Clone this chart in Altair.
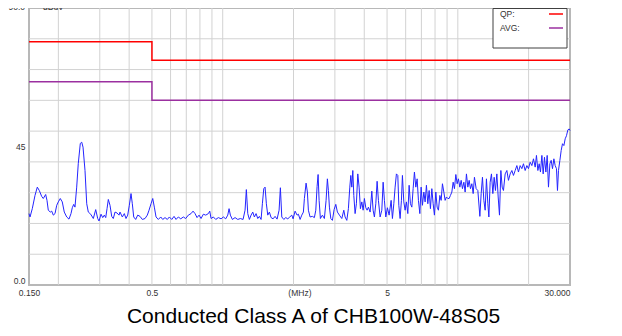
import altair as alt
import pandas as pd

seg1_f = [0.150,0.1515,0.1549,0.1591,0.1627,0.1659,0.1698,0.1725,0.1766,0.1789,
          0.1812,0.1848,0.1874,0.1903,0.1935,0.1968,0.1999,0.2038,0.2078,0.2119,
          0.2170,0.2219,0.2263,0.2292,0.2324,0.2353,0.2393,0.2430,0.2479,0.2514,
          0.2546,0.2596,0.2640,0.2681,0.2745,0.2816,0.2883,0.2940,0.2978,0.3037,
          0.3088,0.3136,0.3180,0.3221,0.3262,0.3316,0.3372,0.3425,0.3483,0.3552,0.3622]
seg1_db = [23.2,22.1,24.8,29.1,31.8,30.7,28.8,28.1,29.4,27.5,
           24.3,23.7,24.0,22.7,23.2,25.9,27.0,28.1,27.0,23.7,
           22.1,21.4,23.2,25.1,26.2,25.3,31.8,39.4,46.0,46.4,
           44.8,37.2,26.4,23.7,23.0,21.6,24.5,21.6,20.8,23.0,
           21.9,22.7,21.9,24.8,27.8,25.9,22.3,21.6,23.7,23.4,22.7]

seg2_f = [0.3658,0.3741,0.3815,0.3879,0.3944,0.4007,0.4074,0.4126,0.4183,0.4265,
          0.4350,0.4449,0.4551,0.4673,0.4779,0.4860,0.4956,0.5039,0.5119,0.5205,
          0.5323,0.5450,0.5557,0.5684,0.5813,0.5930,0.6070,0.6209,0.6331,0.6475,
          0.6630,0.6800,0.6961,0.7141,0.7333,0.7479,0.7626,0.7777,0.7932,0.8089,
          0.8273,0.8469,0.8688]
seg2_db = [23.7,22.1,23.2,21.6,22.7,25.9,29.7,26.4,22.1,21.3,
           22.7,22.3,21.3,21.6,22.7,24.3,26.4,28.1,25.3,22.1,
           21.3,22.1,21.3,21.9,21.3,22.1,21.3,22.3,21.3,22.1,
           21.5,22.1,21.6,22.7,23.2,24.0,23.2,21.9,22.7,21.6,
           23.0,22.7,23.2]

seg3_f = [0.8808,0.8921,0.9124,0.9340,0.9582,0.9840,1.0064,1.0302,1.0506,1.0642,
          1.0778,1.0992,1.1286,1.1587,1.1887,1.2206,1.2447,1.2606,1.2779,1.2984,
          1.3201,1.3421,1.3634,1.3863,1.4095,1.4321,1.4561,1.4748,1.4951,1.5142,
          1.5335,1.5546,1.5795,1.6060,1.6378,1.6701,1.7031,1.7369,1.7591,1.7834,
          1.8187,1.8545,1.8911,1.9289,1.9670,1.9923,2.0316,2.0717]
seg3_db = [24.0,21.6,22.1,21.3,21.9,21.5,22.1,21.5,22.7,24.8,
           22.7,21.3,21.9,21.3,21.6,21.3,24.3,31.0,23.2,21.3,
           22.7,23.7,22.1,23.2,21.6,22.3,21.3,26.4,31.3,31.8,
           26.4,22.7,23.7,21.9,21.5,22.3,21.4,24.3,31.6,22.1,
           21.3,21.9,21.5,22.1,22.7,21.5,24.0,22.7]

seg4_f = [2.0984,2.1336,2.1695,2.2038,2.2253,2.2627,2.2917,2.3143,2.3532,2.4070,
          2.4543,2.4881,2.5202,2.5454,2.5702,2.6031,2.6548,2.7069,2.7524,2.7876,
          2.8151,2.8432,2.8823,2.9280,2.9770,3.0266,3.0745,3.1359,3.2103,3.2738,
          3.3157,3.3713,3.4245,3.4721,3.5062,3.5407,3.5752,3.6107,3.6569,3.7035,
          3.7545,3.8033,3.8520,3.9052,3.9554,4.0056,4.0608,4.1133,4.1658,4.2358,
          4.3071,4.3625,4.4179,4.4787,4.5366,4.5945,4.6718,4.7505,4.8116,4.8726,
          4.9397,5.0179,5.1027]
seg4_db = [23.0,21.3,22.7,23.7,28.1,33.1,30.2,24.3,22.1,22.3,
           21.9,24.3,32.0,35.9,27.5,21.6,22.7,21.6,27.5,34.5,
           30.7,25.3,21.6,21.0,24.5,26.2,23.7,22.7,21.6,24.3,
           22.1,21.0,24.8,31.8,35.6,31.8,37.2,29.1,23.2,26.4,
           36.1,31.8,24.8,27.0,24.3,28.1,25.1,24.3,25.3,23.7,
           30.5,24.3,22.1,26.4,33.7,27.5,22.1,24.3,33.4,27.5,
           22.1,25.1,22.7]

seg5_f = [5.2037,5.2706,5.3431,5.4114,5.4803,5.5558,5.6115,5.6831,5.7562,5.8131,
          5.8930,5.9684,6.0444,6.1277,6.2072,6.2867,6.3736,6.4555,6.5374,6.6274,
          6.7131,6.7987,6.8933,6.9817,7.0713,7.1686,7.2603,7.3527,7.4540,7.5508,
          7.6474,7.7532,7.8528,7.9525,8.0620,8.1662,8.2704,8.3855,8.4929,8.6020,
          8.7203,8.8318,8.9443,9.0675,9.1852,9.3028,9.4314,9.5526,9.6739,9.8071,
          9.9338,10.060,10.201,10.332,10.464,10.608,10.744,10.881,11.031,11.174,
          11.317,11.473,11.621,11.768]
seg5_db = [27.5,21.6,26.4,31.8,36.1,35.6,25.9,21.6,27.5,35.6,
           27.0,24.3,27.0,23.2,32.4,26.4,25.3,31.3,36.7,31.8,
           34.5,27.5,23.2,31.8,25.9,30.2,27.0,32.4,26.4,30.7,
           24.8,31.3,26.4,22.7,30.2,25.3,24.3,29.1,27.5,32.9,
           30.2,27.5,28.6,28.1,28.1,29.1,30.2,33.4,31.3,35.9,
           32.9,34.5,31.8,34.0,31.3,33.4,30.2,36.1,31.8,34.0,
           31.3,32.9,29.7,35.0]

seg6_f = [11.966,12.166,12.409,12.568,12.729,12.904,13.070,13.236,13.418,13.553,
          13.725,13.902,14.092,14.274,14.458,14.656,14.847,15.036,15.243,15.438,
          15.636,15.898,16.165,16.420,16.696,16.977,17.245,17.534,17.829,18.110,
          18.415,18.725,19.020,19.339,19.664,19.974,20.310,20.652,20.978,21.330,
          21.601,21.899,22.183,22.467,22.778,23.070,23.363,23.685,23.991,24.297,
          24.636,24.951,25.272,25.619,25.947,26.278,26.537,26.799,27.171,27.519,
          27.873,28.256,28.618,28.983,29.381,29.763,30.000]
seg6_db = [31.3,30.7,22.3,29.7,35.0,27.5,24.3,34.5,26.4,22.1,
           33.4,36.1,29.7,35.0,30.7,36.1,28.6,22.7,37.2,31.8,
           30.7,36.1,37.2,34.0,36.1,37.2,35.6,37.2,38.8,36.7,
           38.8,37.8,39.4,37.2,38.8,37.8,39.9,38.8,41.0,38.3,
           42.1,37.2,39.4,36.7,42.1,36.1,41.5,36.7,42.1,31.8,
           39.4,40.5,37.8,41.0,38.8,37.8,30.7,37.2,40.5,43.7,
           45.9,45.3,47.5,48.5,50.4,50.7,50.2]

# ---- limit lines ----
limit_f = [0.15, 0.5, 30.0]
qp_db = [79, 73, 73]
avg_db = [66, 60, 60]

# ---- grid / ticks / text ----
x_grid = [0.2, 0.3, 0.4, 0.5, 0.6, 0.7, 0.8, 0.9, 1, 2, 3, 4, 5, 6, 7, 8, 9, 10, 20]
y_grid = [10, 20, 30, 40, 50, 60, 70, 80]
x_ticks = [0.15, 0.5, 2.12, 5, 30]
x_labels = ["0.150", "0.5", "(MHz)", "5", "30.000"]
y_ticks = [0, 45]
y_labels = ["0.0", "45"]
top_labels = ["90.0", "dBuV"]
legend_names = ["QP:", "AVG:"]
legend_colors = ["#ff0000", "#9b30a0"]
title_text = "Conducted Class A of CHB100W-48S05"

FONT = "Liberation Sans"

freq = seg1_f + seg2_f + seg3_f + seg4_f + seg5_f + seg6_f
level = seg1_db + seg2_db + seg3_db + seg4_db + seg5_db + seg6_db
trace = pd.DataFrame({"f": freq, "db": level})
qp = pd.DataFrame({"f": limit_f, "db": qp_db})
avg = pd.DataFrame({"f": limit_f, "db": avg_db})


def label_expr(vals, labs):
    parts = [f"abs(datum.value - {v}) < 1e-6 ? '{l}'" for v, l in zip(vals, labs)]
    return " : ".join(parts) + " : ''"


xs = alt.Scale(type="log", domain=[0.15, 30], nice=False)
ys = alt.Scale(domain=[0, 90], nice=False)

x_axis = alt.Axis(values=x_ticks, labelExpr=label_expr(x_ticks, x_labels), title=None,
                  grid=False, ticks=False, domain=False, labelFont=FONT, labelFontSize=8.5,
                  labelColor="#333333", labelPadding=3,
                  labelAlign={"condition": {"test": "datum.value >= 29", "value": "right"},
                              "value": "center"})
y_axis = alt.Axis(values=y_ticks, labelExpr=label_expr(y_ticks, y_labels), title=None,
                  grid=False, ticks=False, domain=False, labelFont=FONT, labelFontSize=8.5,
                  labelColor="#333333", labelPadding=4,
                  labelBaseline={"condition": {"test": "datum.value < 1", "value": "bottom"},
                                 "value": "middle"})

X = alt.X("f:Q", scale=xs, axis=x_axis)
Y = alt.Y("db:Q", scale=ys, axis=y_axis)

one = pd.DataFrame({"k": [0]})

vgrid = alt.Chart(pd.DataFrame({"f": x_grid})).mark_rule(color="#d2d2d2", strokeWidth=1).encode(x=X)
hgrid = alt.Chart(pd.DataFrame({"db": y_grid})).mark_rule(color="#d2d2d2", strokeWidth=1).encode(y=Y)

qp_line = alt.Chart(qp).mark_line(color=legend_colors[0], strokeWidth=1.5,
                                  interpolate="step-after").encode(x=X, y=Y)
avg_line = alt.Chart(avg).mark_line(color=legend_colors[1], strokeWidth=1.5,
                                    interpolate="step-after").encode(x=X, y=Y)
trace_line = alt.Chart(trace).mark_line(color="#2424ff", strokeWidth=1).encode(x=X, y=Y)

legend_box = alt.Chart(one).mark_rect(fill="white", stroke="#404040", strokeWidth=1).encode(
    x=alt.value(464), x2=alt.value(538), y=alt.value(0.5), y2=alt.value(40))

legend_layers = []
for i, (name, col) in enumerate(zip(legend_names, legend_colors)):
    yy = 6 + 14 * i
    legend_layers.append(
        alt.Chart(one).mark_text(text=name, align="left", baseline="middle", font=FONT,
                                 fontSize=8.5, color="#333333").encode(
            x=alt.value(471), y=alt.value(yy)))
    legend_layers.append(
        alt.Chart(one).mark_rule(color=col, strokeWidth=1.5).encode(
            x=alt.value(520), x2=alt.value(534), y=alt.value(yy)))

top_text = [
    alt.Chart(one).mark_text(text=top_labels[0], align="right", baseline="alphabetic",
                             font=FONT, fontSize=8.5, color="#333333").encode(
        x=alt.value(-4), y=alt.value(2)),
    alt.Chart(one).mark_text(text=top_labels[1], align="left", baseline="alphabetic",
                             font=FONT, fontSize=8.5, color="#333333").encode(
        x=alt.value(14), y=alt.value(2)),
]

chart = alt.layer(vgrid, hgrid, trace_line, qp_line, avg_line, legend_box,
                  *legend_layers, *top_text).properties(
    width=541, height=277,
    autosize=alt.AutoSizeParams(type="none"),
    padding={"left": 21, "top": 0, "right": 40, "bottom": 42},
    title=alt.TitleParams(title_text, orient="bottom", anchor="middle", font=FONT,
                          fontSize=21, fontWeight="normal", color="#000000",
                          offset=9, dx=14),
).configure_view(stroke="#b8b8b8", strokeWidth=2)

chart.save("out.html", embed_options={"renderer": "svg", "actions": False})
